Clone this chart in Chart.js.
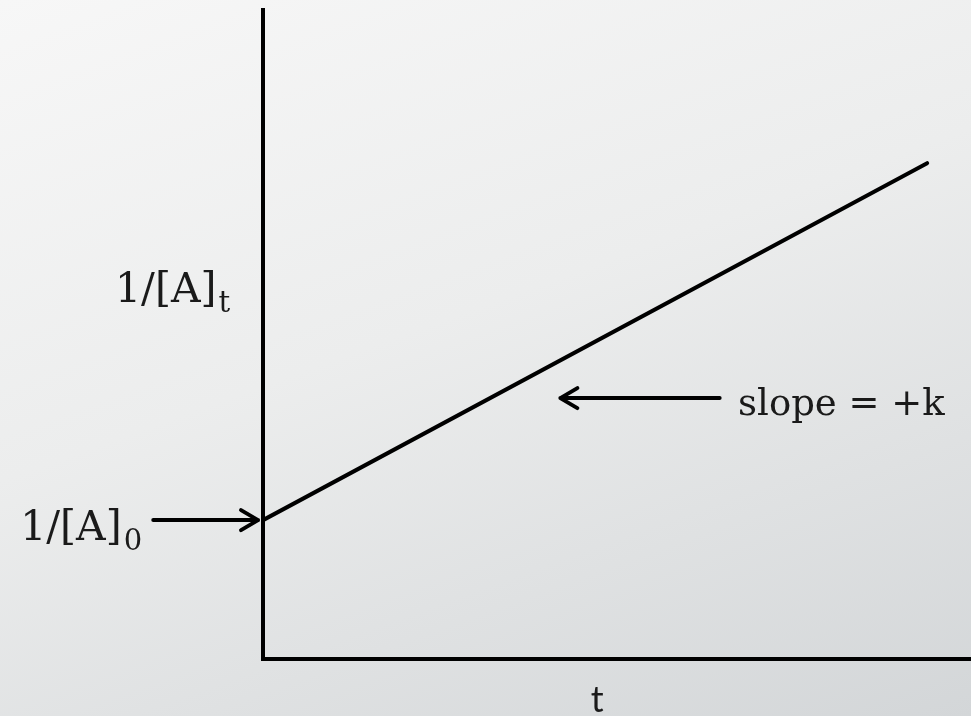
<!DOCTYPE html>
<html>
<head>
<meta charset="utf-8">
<script src="https://cdn.jsdelivr.net/npm/chart.js@4.4.0/dist/chart.umd.min.js"></script>
<style>
  html, body { margin: 0; padding: 0; }
  body {
    width: 971px; height: 716px; overflow: hidden;
    background: linear-gradient(160deg, #f7f7f7 0%, #eceded 45%, #d3d6d8 100%);
  }
  #wrap { width: 971px; height: 716px; }
</style>
</head>
<body>
<div id="wrap"><canvas id="c"></canvas></div>
<script>
// values in chart units (axes run 0..100, no ticks shown)
var tValues = [0, 93.8];
var invA = [21.4, 76.4];

// arrows and labels, also in chart units
var arrows = [
  { from: [-15.5, 21.4], to: [-0.7, 21.4] },
  { from: [64.5, 40.2], to: [42.0, 40.2] }
];
var labels = [
  { text: '1/[A]', sub: 't', x: -20.9, y: 55.0, size: 41 },
  { text: '1/[A]', sub: '0', x: -34.3, y: 18.3, size: 41 },
  { text: 'slope = +k', sub: '', x: 67.1, y: 37.6, size: 37 }
];
var xTitle = 't';

var serif = '"DejaVu Serif", "Liberation Serif", serif';

var notes = {
  id: 'notes',
  afterDraw: function (chart) {
    var ctx = chart.ctx;
    var sx = chart.scales.x, sy = chart.scales.y;
    ctx.save();
    ctx.strokeStyle = '#000';
    ctx.fillStyle = '#1a1a1a';
    ctx.lineWidth = 4;
    ctx.lineCap = 'round';
    ctx.lineJoin = 'round';
    arrows.forEach(function (a) {
      var x1 = sx.getPixelForValue(a.from[0]), y1 = sy.getPixelForValue(a.from[1]);
      var x2 = sx.getPixelForValue(a.to[0]), y2 = sy.getPixelForValue(a.to[1]);
      var dir = x2 > x1 ? 1 : -1;
      ctx.beginPath();
      ctx.moveTo(x1, y1);
      ctx.lineTo(x2, y2);
      ctx.moveTo(x2 - dir * 17, y2 - 10);
      ctx.lineTo(x2, y2);
      ctx.lineTo(x2 - dir * 17, y2 + 10);
      ctx.stroke();
    });
    ctx.textBaseline = 'alphabetic';
    ctx.textAlign = 'left';
    labels.forEach(function (l) {
      var px = sx.getPixelForValue(l.x), py = sy.getPixelForValue(l.y);
      ctx.font = l.size + 'px ' + serif;
      ctx.fillText(l.text, px, py);
      if (l.sub) {
        var w = ctx.measureText(l.text).width;
        ctx.font = Math.round(l.size * 0.7) + 'px ' + serif;
        ctx.fillText(l.sub, px + w + 2, py + 10);
      }
    });
    ctx.font = '36px Lato, "Open Sans", sans-serif';
    ctx.textAlign = 'center';
    ctx.fillText(xTitle, sx.getPixelForValue(47.2), sy.getPixelForValue(-8.2));
    ctx.restore();
  }
};

new Chart(document.getElementById('c'), {
  type: 'scatter',
  data: {
    datasets: [{
      data: tValues.map(function (t, i) { return { x: t, y: invA[i] }; }),
      showLine: true,
      borderColor: '#000',
      borderWidth: 4,
      pointRadius: 0,
      borderCapStyle: 'round'
    }]
  },
  options: {
    responsive: true,
    maintainAspectRatio: false,
    animation: false,
    layout: { padding: { left: 263, top: 10, right: 0, bottom: 57 } },
    plugins: { legend: { display: false }, tooltip: { enabled: false } },
    scales: {
      x: {
        min: 0, max: 100,
        ticks: { display: false },
        grid: { display: false },
        border: { display: true, color: '#000', width: 4 },
        afterFit: function (s) { s.height = 0; }
      },
      y: {
        min: 0, max: 100,
        ticks: { display: false },
        grid: { display: false },
        border: { display: true, color: '#000', width: 4 },
        afterFit: function (s) { s.width = 0; }
      }
    }
  },
  plugins: [notes]
});
</script>
</body>
</html>
